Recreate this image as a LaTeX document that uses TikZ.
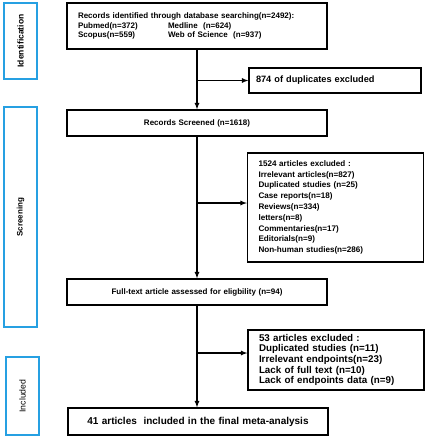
\documentclass[tikz,border=0pt]{standalone}
\usepackage{fontspec}
\setmainfont{Liberation Sans}
\usetikzlibrary{calc}
\definecolor{stageblue}{RGB}{38,160,226}

\begin{document}
\begin{tikzpicture}[x=1pt, y=-1pt, >=latex,
	mainbox/.style={draw, line width=1.3pt, minimum width=260pt, text width=238pt, inner xsep=11pt, align=center, font=\bfseries\fontsize{8}{9.3}\selectfont},
	sidebox/.style={draw, line width=1.3pt, text width=154pt, inner xsep=11pt, align=left, font=\bfseries\fontsize{8.1}{10.8}\selectfont},
	stage/.style={draw=stageblue, line width=1.5pt, rotate=90, minimum height=33pt, font=\bfseries\fontsize{8}{9}\selectfont},
	flow/.style={->, line width=1.2pt}]
	% page: 427 x 440
	\useasboundingbox (0,0) rectangle (427,440);
	
	% stages on the left
	\node[stage, minimum width=76pt, font=\bfseries\fontsize{8.5}{9}\selectfont] (ident) at (20.5,41) {Identification};
	\node[stage, minimum width=220pt] (screen) at (20.5,217) {Screening};
	\node[stage, minimum width=78pt, font=\fontsize{8.7}{9}\selectfont] (incl) at (22.5,396) {Included};
	
	% main column
	\node[mainbox, align=left, minimum height=46pt] (records) at (197,26) {Records identified through database searching(n=2492):\\
		\makebox[90pt][l]{Pubmed(n=372)}Medline\ \ (n=624)\\
		\makebox[90pt][l]{Scopus(n=559)}Web of Science\ \ (n=937)\\[2pt]};
	\node[mainbox, minimum height=26pt] (screened) at (197,123) {Records Screened (n=1618)};
	\node[mainbox, minimum height=26pt] (fulltext) at (197,292) {Full-text article assessed for eligbility (n=94)};
	\node[mainbox, minimum height=27pt, font=\bfseries\fontsize{10}{11}\selectfont] (final) at (198,421.5) {41 articles\ \ included in the final meta-analysis};
	
	% exclusions on the right
	\node[sidebox, minimum height=25pt, text width=158pt, inner xsep=7pt, font=\bfseries\fontsize{9.2}{10}\selectfont] (dupl) at (335,80.5) {874 of duplicates excluded};
	\node[sidebox, minimum height=109pt] (excl1) at (335.5,207.5) {1524 articles excluded :\\
		Irrelevant articles(n=827)\\
		Duplicated studies (n=25)\\
		Case reports(n=18)\\
		Reviews(n=334)\\
		letters(n=8)\\
		Commentaries(n=17)\\
		Editorials(n=9)\\
		Non-human studies(n=286)};
	\node[sidebox, minimum height=60pt, font=\bfseries\fontsize{9.8}{10.6}\selectfont] (excl2) at (336,360) {53 articles excluded :\\
		Duplicated studies (n=11)\\
		Irrelevant endpoints(n=23)\\
		Lack of full text (n=10)\\
		Lack of endpoints data (n=9)};
	
	% branch points
	\coordinate (b1) at (records.south |- dupl.west);
	\coordinate (b2) at (197,203);
	\coordinate (b3) at (197,353);
	
	% arrows
	\draw[flow] (records.south) -- (screened.north);
	\draw[flow] (b1) -- (dupl.west);
	\draw[flow] (screened.south) -- (screened.south |- fulltext.north);
	\draw[flow] (b2) -- (b2 -| excl1.west);
	\draw[flow] (fulltext.south) -- (fulltext.south |- final.north);
	\draw[flow] (b3) -- (b3 -| excl2.west);
\end{tikzpicture}
\end{document}
